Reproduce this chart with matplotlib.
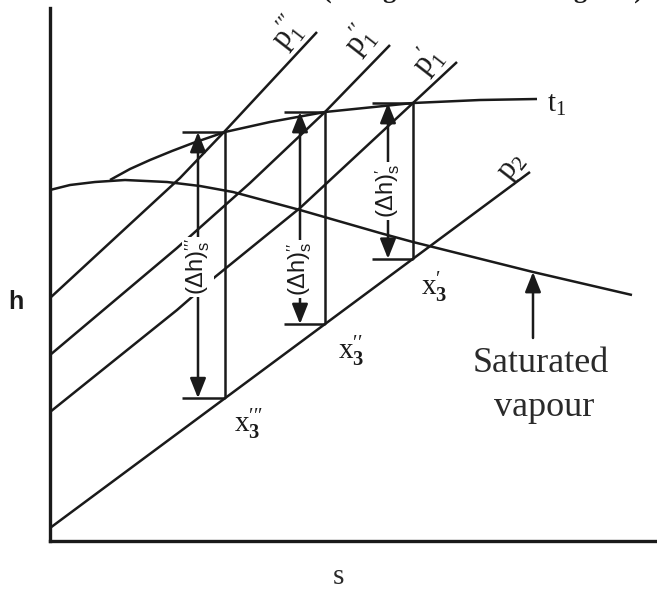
import matplotlib
matplotlib.use("Agg")
import matplotlib.pyplot as plt
import numpy as np

plt.rcParams['mathtext.fontset'] = 'custom'
plt.rcParams['mathtext.rm'] = 'Liberation Serif'
plt.rcParams['mathtext.sf'] = 'Liberation Sans'
plt.rcParams['mathtext.bf'] = 'Liberation Serif:bold'
plt.rcParams['mathtext.default'] = 'rm'

INK = '#1a1a1a'
LW = 1.8

# schematic h-s (Mollier) chart, arbitrary units
# saturated vapour line
sat_s = [0, 20, 45, 75, 117, 150, 183, 250, 330, 363, 387, 483, 582]
sat_h = [351, 356, 359, 361, 359, 355, 349, 331, 308, 299, 293, 269, 246]

# constant temperature line t1
t1_s = [60, 80, 100, 122, 143, 175, 220, 275, 363, 430, 487]
t1_h = [361, 372, 381, 390, 398, 409, 419, 429, 438, 441, 442]

# inlet isobars p1''', p1'', p1'
p1a_s = [0, 130, 175, 267]
p1a_h = [243, 363, 410, 509]
p1b_s = [0, 127, 200, 275, 340]
p1b_h = [186, 293, 358, 429, 496]
p1c_s = [0, 127, 165, 250, 363, 407]
p1c_h = [129, 231, 264, 333, 438, 479]

# exhaust isobar p2
p2_s = [0, 480]
p2_h = [13, 369]

# isentropic expansions: entropy, inlet enthalpy on t1
iso_s = [175, 275, 363]
iso_h1 = [409, 429, 438]
iso_h3 = np.interp(iso_s, p2_s, p2_h)

arrow_s = [148, 250, 338]
label_h = [274, 272, 350]
primes = [r'\prime\prime\prime', r'\prime\prime', r'\prime']

fig = plt.figure(figsize=(6.57, 5.92), dpi=100)
ax = fig.add_axes([50 / 657, 51 / 592, 607 / 657, 533 / 592])
ax.set_xlim(0, 607)
ax.set_ylim(0, 533)

for side in ['top', 'right']:
    ax.spines[side].set_visible(False)
for side in ['left', 'bottom']:
    ax.spines[side].set_linewidth(2.4)
    ax.spines[side].set_color(INK)
ax.set_xticks([])
ax.set_yticks([])

line_kw = dict(color=INK, lw=LW, solid_capstyle='butt', zorder=2)
ax.plot(sat_s, sat_h, **line_kw)
ax.plot(t1_s, t1_h, **line_kw)
ax.plot(p1a_s, p1a_h, **line_kw)
ax.plot(p1b_s, p1b_h, **line_kw)
ax.plot(p1c_s, p1c_h, **line_kw)
ax.plot(p2_s, p2_h, **line_kw)

head = dict(arrowstyle='-|>,head_length=0.55,head_width=0.22', mutation_scale=22,
            color=INK, lw=LW, shrinkA=0, shrinkB=0)

for i in range(3):
    s, h1, h3 = iso_s[i], iso_h1[i], iso_h3[i]
    xa = arrow_s[i]
    # isentropic drop from t1 down to p2
    ax.plot([s, s], [h1, h3], **line_kw)
    # end bars of the enthalpy drop
    ax.plot([xa - 16, s], [h1, h1], **line_kw)
    ax.plot([xa - 16, s], [h3, h3], **line_kw)
    ax.annotate('', xy=(xa, h1), xytext=(xa, label_h[i]), arrowprops=head, zorder=3)
    ax.annotate('', xy=(xa, h3), xytext=(xa, label_h[i]), arrowprops=head, zorder=3)
    ax.text(xa, label_h[i], r'$\mathsf{(\Delta h)}^{%s}_{\mathsf{s}}$' % primes[i],
            rotation=90, ha='center', va='center', fontsize=17, color=INK,
            bbox=dict(facecolor='white', edgecolor='none', pad=1.0), zorder=4)

# curve labels
ax.text(238, 507, r'$\mathrm{p}^{\prime\prime\prime}_{1}$', rotation=52,
        ha='center', va='center', fontsize=22, color=INK)
ax.text(310, 500, r'$\mathrm{p}^{\prime\prime}_{1}$', rotation=52,
        ha='center', va='center', fontsize=22, color=INK)
ax.text(378, 480, r'$\mathrm{p}^{\prime}_{1}$', rotation=52,
        ha='center', va='center', fontsize=22, color=INK)
ax.text(463, 374, r'$\mathrm{p}_{2}$', rotation=52,
        ha='center', va='center', fontsize=22, color=INK)
ax.text(507, 437, r'$\mathrm{t}_{1}$', ha='center', va='center',
        fontsize=21, color=INK)

# end states of the expansions
ax.text(384, 254, r'$\mathrm{x}^{\prime}_{\mathbf{3}}$', ha='center', va='center',
        fontsize=21, color=INK)
ax.text(301, 190, r'$\mathrm{x}^{\prime\prime}_{\mathbf{3}}$', ha='center', va='center',
        fontsize=21, color=INK)
ax.text(199, 117, r'$\mathrm{x}^{\prime\prime\prime}_{\mathbf{3}}$', ha='center', va='center',
        fontsize=21, color=INK)

# saturated vapour pointer
ax.annotate('', xy=(483, 269), xytext=(483, 203), arrowprops=head, zorder=3)
ax.text(491, 177, 'Saturated', ha='center', va='center', fontsize=26,
        family='Liberation Serif', color='#2a2a2a')
ax.text(494, 134, 'vapour', ha='center', va='center', fontsize=26,
        family='Liberation Serif', color='#2a2a2a')

# axis names
ax.text(-34, 239, 'h', ha='center', va='center', fontsize=18,
        fontweight='bold', family='Liberation Sans', color=INK)
ax.text(288, -36, 's', ha='center', va='center', fontsize=21,
        family='Liberation Serif', color='#2a2a2a')

# heading line running off the top edge
fig.text(323 / 657, 1 + 2 / 592, '(Using the Mollier Diagram)', ha='left', va='baseline',
         fontsize=19, fontweight='bold', family='Liberation Serif', color=INK)

fig.savefig('out.png', dpi=100, facecolor='white')
